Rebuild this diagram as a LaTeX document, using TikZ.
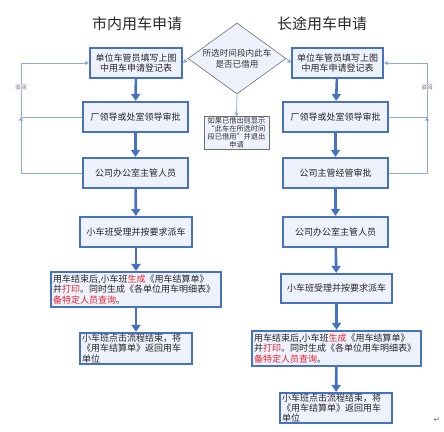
\documentclass[tikz,border=0pt]{standalone}
\usepackage{fontspec}
\newfontfamily\cjk{Noto Sans CJK SC}
\newfontfamily\dejavu{DejaVu Sans}
\usetikzlibrary{shapes.geometric,arrows.meta}
\definecolor{boxblue}{HTML}{4672C4}
\definecolor{boxfill}{HTML}{EEF2FC}
\definecolor{loopblue}{HTML}{8EA9DB}
\definecolor{notegray}{HTML}{6E6E6E}
\definecolor{hired}{HTML}{E8202A}
\tikzset{
  box/.style={draw=boxblue, line width=2.2pt, fill=boxfill, inner sep=2pt,
    font=\cjk\fontsize{9}{10.4}\selectfont, text=black!85, align=center},
  leftbox/.style={box, align=left, inner xsep=2pt},
  flow/.style={draw=boxblue, line width=2.6pt, -{Triangle[width=9pt,length=7pt]}},
  thin/.style={draw=loopblue, line width=0.8pt},
  thinarrow/.style={thin, -{Triangle[width=4pt,length=3.5pt]}},
  title/.style={font=\cjk\fontsize{15}{18}\selectfont, text=black!85},
  lbl/.style={font=\cjk\fontsize{5.5}{6}\selectfont, text=black!60, fill=white, inner sep=0.6pt}
}
\begin{document}
\begin{tikzpicture}[x=1pt,y=-1pt]
\useasboundingbox (0,0) rectangle (444,431);
% titles
\node[title] (t1) at (137,24) {市内用车申请};
\node[title] (t2) at (322,24) {长途用车申请};
% diamond
\node[draw=notegray, line width=0.6pt, fill=boxfill, shape=diamond, aspect=1.38, inner sep=0pt,
  minimum width=98pt, minimum height=71pt, align=center,
  font=\cjk\fontsize{8.6}{10.5}\selectfont, text=black!80] (D) at (237,58.5) {所选时间段内此车\\是否已借用};
\node[draw=notegray, line width=0.9pt, fill=boxfill, minimum width=65pt, minimum height=32pt, inner sep=1pt,
  align=center, font=\cjk\fontsize{7.2}{8}\selectfont, text=black!80] (N) at (236.5,133)
  {如果已借出则显示\\“此车在所选时间\\段已借用”并退出\\申请};
% left column
\node[box, minimum width=92pt, minimum height=30pt] (L1) at (136,63) {单位车管员填写上图\\中用车申请登记表};
\node[box, minimum width=105pt, minimum height=30pt] (L2) at (135.5,117) {厂领导或处室领导审批};
\node[box, minimum width=105pt, minimum height=30pt] (L3) at (135.5,173) {公司办公室主管人员};
\node[box, minimum width=112pt, minimum height=30pt] (L4) at (136,232) {小车班受理并按要求派车};
\node[leftbox, text width=166pt, minimum height=35pt] (L5) at (136,289.5)
  {用车结束后,小车班\textcolor{hired}{生成}《用车结算单》\\并\textcolor{hired}{打印}。同时生成《各单位用车明细表》\\\textcolor{hired}{备特定人员查询}。};
\node[leftbox, text width=108pt, minimum height=31pt, inner ysep=0pt] (L6) at (136,348.5)
  {小车班点击流程结束，将\\《用车结算单》返回用车\\单位};
% right column
\node[box, minimum width=91pt, minimum height=30pt] (R1) at (337.5,63) {单位车管员填写上图\\中用车申请登记表};
\node[box, minimum width=105pt, minimum height=30pt] (R2) at (335.5,117) {厂领导或处室领导审批};
\node[box, minimum width=105pt, minimum height=30pt] (R3) at (335.5,173) {公司主管经管审批};
\node[box, minimum width=105pt, minimum height=30pt] (R4) at (335.5,232) {公司办公室主管人员};
\node[box, minimum width=111pt, minimum height=29pt] (R5) at (336.5,288.5) {小车班受理并按要求派车};
\node[leftbox, text width=165pt, minimum height=35pt] (R6) at (336.5,348.5)
  {用车结束后,小车班\textcolor{hired}{生成}《用车结算单》\\并\textcolor{hired}{打印}。同时生成《各单位用车明细表》\\\textcolor{hired}{备特定人员查询}。};
\node[leftbox, text width=108pt, minimum height=30pt, inner ysep=0pt] (R7) at (336,408)
  {小车班点击流程结束，将\\《用车结算单》返回用车\\单位};
% main flows
\foreach \a/\b in {L1/L2,L2/L3,L3/L4,L4/L5,L5/L6,R1/R2,R2/R3,R3/R4,R4/R5,R5/R6,R6/R7}
  \draw[flow] (\a) -- (\b);
% diamond connectors
\draw[thinarrow] (D.west) -- (L1.east);
\draw[thinarrow] (D.east) -- (R1.west);
\draw[thinarrow] (D.south) -- (N.north);
% left loop
\coordinate (la) at (21,63);
\coordinate (lb) at (21,117);
\coordinate (lc) at (21,173);
\draw[thinarrow] (L3.west) -- (lc) -- (lb);
\draw[thinarrow] (L2.west) -- (lb) -- (la) -- (L1.west);
\node[lbl] (lab1) at (21,87) {驳回};
% right loop
\coordinate (ra) at (427,63);
\coordinate (rb) at (427,117);
\coordinate (rc) at (427,173);
\draw[thinarrow] (R3.east) -- (rc) -- (rb);
\draw[thinarrow] (R2.east) -- (rb) -- (ra) -- (R1.east);
\node[lbl] (lab2) at (427,87) {驳回};
% paragraph mark
\node[font=\dejavu\fontsize{8}{8}\selectfont, text=black!55, inner sep=0pt] (pm) at (437,420) {↵};
\end{tikzpicture}
\end{document}
